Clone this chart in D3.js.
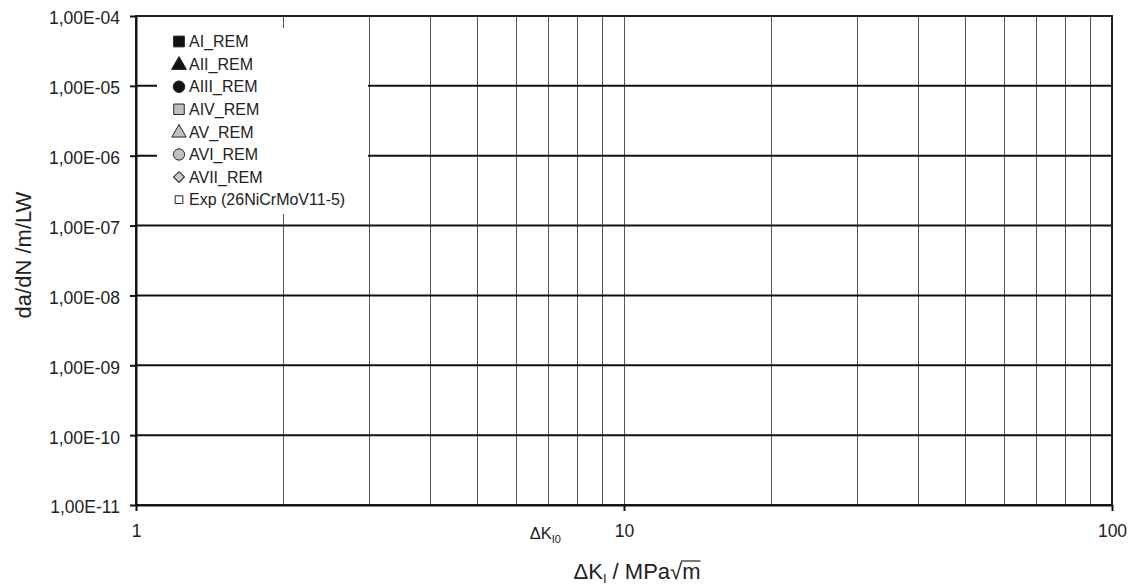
<!DOCTYPE html>
<html>
<head>
<meta charset="utf-8">
<script src="https://cdn.jsdelivr.net/npm/d3@7"></script>
<style>
  body { margin: 0; background: #fff; }
  svg { display: block; font-family: "Liberation Sans", Arial, sans-serif; }
</style>
</head>
<body>
<svg id="chart" width="1131" height="586"></svg>
<script>
// Chart data
const xDomain = [1, 100];
const yDomain = [1e-11, 1e-4];
const xLabelTicks = [1, 10, 100];
const yTicks = [1e-4, 1e-5, 1e-6, 1e-7, 1e-8, 1e-9, 1e-10, 1e-11];
const seriesNames = ["AI_REM", "AII_REM", "AIII_REM", "AIV_REM", "AV_REM", "AVI_REM", "AVII_REM", "Exp (26NiCrMoV11-5)"];
// no points of any series are visible in the picture
const seriesValues = [[], [], [], [], [], [], [], []];
const thresholdK = 6.9; // position of the ΔK_I0 label

// Marker styles ("diamond" = square turned by 45°)
const seriesSymbols = ["square", "triangle", "circle", "square", "triangle", "circle", "diamond", "square"];
const seriesFills = ["#111", "#111", "#111", "#c0c0c0", "#c0c0c0", "#c0c0c0", "#c8c8c8", "#fff"];
const seriesSizes = [115, 95, 105, 110, 90, 100, 60, 60];
const symbolTypes = { square: d3.symbolSquare, triangle: d3.symbolTriangle, circle: d3.symbolCircle, diamond: d3.symbolSquare };

const svg = d3.select("#chart");
const margin = { top: 16, right: 19, bottom: 81, left: 136 };
const width = +svg.attr("width") - margin.left - margin.right;
const height = +svg.attr("height") - margin.top - margin.bottom;

const x = d3.scaleLog().domain(xDomain).range([0, width]);
const y = d3.scaleLog().domain(yDomain).range([height, 0]);

// "1,00E-04" style labels
const fmtY = d => {
  const e = Math.round(Math.log10(d));
  const m = d / Math.pow(10, e);
  const s = e < 0 ? "-" : "+";
  return m.toFixed(2).replace(".", ",") + "E" + s + String(Math.abs(e)).padStart(2, "0");
};

const g = svg.append("g").attr("transform", `translate(${margin.left},${margin.top})`);

// Vertical gridlines
g.append("g")
  .selectAll("line")
  .data(x.ticks().filter(d => d > xDomain[0] && d < xDomain[1]))
  .join("line")
  .attr("x1", d => Math.round(x(d)) + 0.5).attr("x2", d => Math.round(x(d)) + 0.5)
  .attr("y1", 0).attr("y2", height)
  .attr("stroke", "#555").attr("stroke-width", 1);

// Horizontal gridlines
g.append("g")
  .selectAll("line")
  .data(yTicks.filter(d => d > yDomain[0] && d < yDomain[1]))
  .join("line")
  .attr("x1", 0).attr("x2", width)
  .attr("y1", d => y(d)).attr("y2", d => y(d))
  .attr("stroke", "#111").attr("stroke-width", 2);

// Frame
g.append("rect")
  .attr("width", width).attr("height", height)
  .attr("fill", "none").attr("stroke", "#222").attr("stroke-width", 2);

// Y axis
const yAxis = g.append("g")
  .call(d3.axisLeft(y).tickValues(yTicks).tickFormat(fmtY).tickSizeInner(6).tickSizeOuter(0).tickPadding(10));
yAxis.select(".domain").attr("stroke", "#111").attr("stroke-width", 2);
yAxis.selectAll(".tick line").attr("stroke", "#111").attr("stroke-width", 2);
yAxis.selectAll("text")
  .attr("dy", "0.45em")
  .attr("fill", "#222")
  .style("font-size", "17.5px")
  .style("font-family", "'Liberation Sans', Arial, sans-serif");

// X axis
const xAxis = g.append("g")
  .attr("transform", `translate(0,${height})`)
  .call(d3.axisBottom(x).tickValues(xLabelTicks).tickFormat(d3.format("d")).tickSizeInner(6).tickSizeOuter(0).tickPadding(14));
xAxis.select(".domain").attr("stroke", "#111").attr("stroke-width", 2);
xAxis.selectAll(".tick line").attr("stroke", "#111").attr("stroke-width", 2);
xAxis.selectAll("text")
  .attr("fill", "#222")
  .style("font-size", "17.5px")
  .style("font-family", "'Liberation Sans', Arial, sans-serif");

// ΔK_I0 label
const th = g.append("text")
  .attr("x", x(thresholdK)).attr("y", height + 34)
  .attr("text-anchor", "middle")
  .attr("fill", "#222")
  .style("font-size", "16.5px");
th.append("tspan").text("ΔK");
th.append("tspan").attr("dy", 4).style("font-size", "11px").text("I0");

const symbolPath = i => d3.symbol(symbolTypes[seriesSymbols[i]], seriesSizes[i])();
const symbolRot = i => seriesSymbols[i] === "diamond" ? " rotate(45)" : "";

// Series points (empty in the picture)
seriesValues.forEach((vals, i) => {
  g.append("g")
    .selectAll("path")
    .data(vals)
    .join("path")
    .attr("transform", d => `translate(${x(d[0])},${y(d[1])})${symbolRot(i)}`)
    .attr("d", symbolPath(i))
    .attr("fill", seriesFills[i]).attr("stroke", "#222");
});

// Legend
const legend = svg.append("g").attr("transform", "translate(157,28)");
legend.append("rect").attr("width", 211).attr("height", 186).attr("fill", "#fff");
const rows = legend.selectAll("g")
  .data(seriesNames)
  .join("g")
  .attr("transform", (d, i) => `translate(0,${13.5 + i * 22.6})`);
rows.append("path")
  .attr("transform", (d, i) => `translate(22,${seriesSymbols[i] === "triangle" ? 1 : 0})${symbolRot(i)}`)
  .attr("d", (d, i) => symbolPath(i))
  .attr("fill", (d, i) => seriesFills[i])
  .attr("stroke", "#222").attr("stroke-width", 1);
rows.append("text")
  .attr("x", 32).attr("dy", "0.36em")
  .attr("fill", "#222")
  .style("font-size", "16px")
  .text(d => d);

// Axis titles
const xt = svg.append("text")
  .attr("x", 637).attr("y", 579)
  .attr("text-anchor", "middle")
  .attr("fill", "#222")
  .style("font-size", "22px");
xt.append("tspan").text("ΔK");
xt.append("tspan").attr("dy", 4).style("font-size", "13px").text("I");
xt.append("tspan").attr("dy", -4).text(" / MPa");
xt.append("tspan").text("√");
xt.append("tspan").text("m");
// overline of the root sign
const xtNode = xt.node();
const n = xtNode.getNumberOfChars();
const root = xtNode.getExtentOfChar(n - 2);
const last = xtNode.getExtentOfChar(n - 1);
svg.append("line")
  .attr("x1", root.x + root.width - 1).attr("x2", last.x + last.width)
  .attr("y1", root.y + 2).attr("y2", root.y + 2)
  .attr("stroke", "#222").attr("stroke-width", 1.2);

svg.append("text")
  .attr("transform", "translate(31,255) rotate(-90)")
  .attr("text-anchor", "middle")
  .attr("fill", "#222")
  .style("font-size", "22px")
  .text("da/dN /m/LW");
</script>
</body>
</html>
